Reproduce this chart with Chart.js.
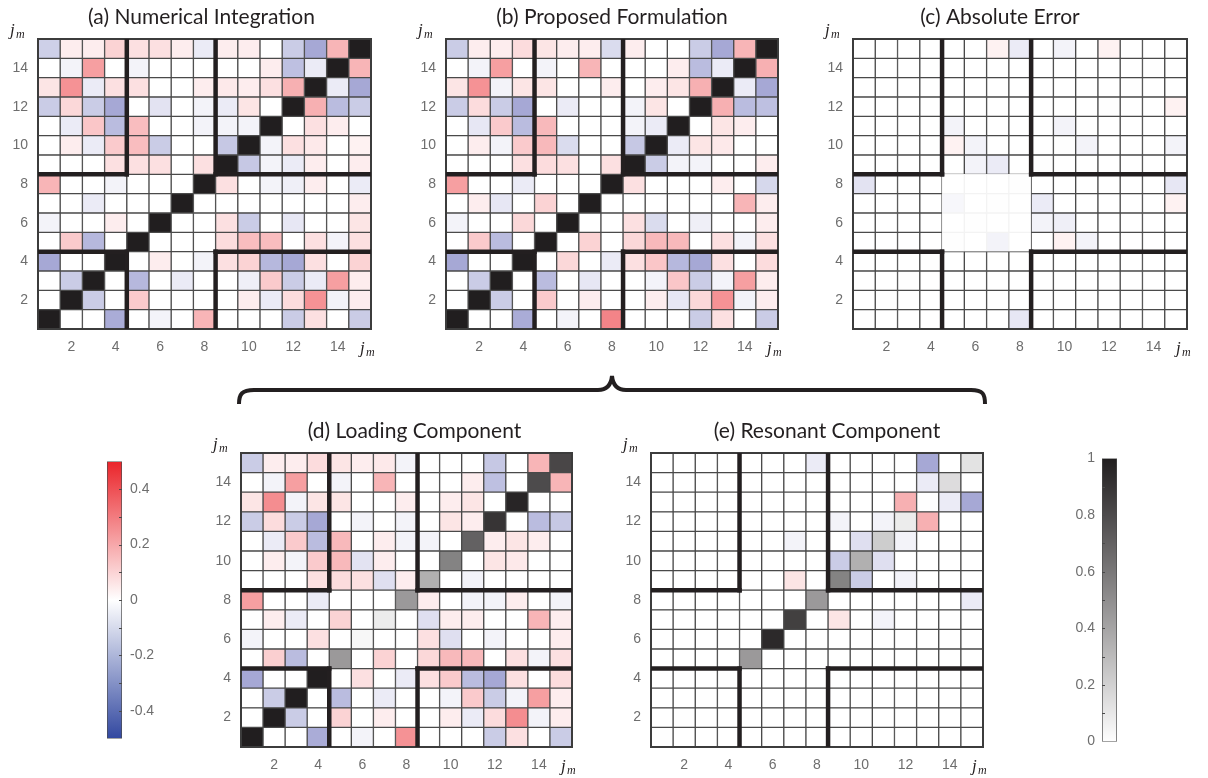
<!DOCTYPE html>
<html><head><meta charset="utf-8">
<script src="https://cdn.jsdelivr.net/npm/chart.js@4.4.1/dist/chart.umd.min.js"></script>
<style>
html,body{margin:0;padding:0;background:#fff;width:1208px;height:778px;overflow:hidden;position:relative}
canvas{position:absolute;display:block}
svg{position:absolute;left:0;top:0}
</style></head><body>
<svg width="1208" height="778"><path d="M239,404 C239,394 242,390 254,390 L598,390 C606,390 611,386 612,376 C613,386 618,390 626,390 L971,390 C983,390 985,394 985,404" fill="none" stroke="#231f20" stroke-width="4"/></svg>
<canvas id="ca"></canvas><canvas id="cb"></canvas><canvas id="cc"></canvas>
<canvas id="cd"></canvas><canvas id="ce"></canvas>
<canvas id="cbarDiv"></canvas><canvas id="cbarGray"></canvas>
<script>
// ---- data (rows listed from j=15 at top down to j=1; columns 1..15) ----
const columnLabels = ['1','2','3','4','5','6','7','8','9','10','11','12','13','14','15'];
const rowTicks = [2,4,6,8,10,12,14];
const divergingTicks = [-0.4,-0.2,0,0.2,0.4];
const grayTicks = [0,0.2,0.4,0.6,0.8,1];

const numericalIntegration = [
 [-0.12,0.04,0.04,0.10,0.07,0.07,0.04,-0.05,0.04,0.04,0,-0.13,-0.22,0.17,1],
 [0,-0.03,0.22,0,-0.03,0,0,0,0,0,0.04,-0.16,-0.05,1,0.17],
 [0.06,0.25,-0.05,0.07,0.07,0,0,0.04,0.05,0.04,0.07,0.18,1,-0.05,-0.22],
 [-0.13,0.09,-0.13,-0.22,0,-0.07,0,-0.03,-0.05,0.06,0,1,0.18,-0.17,-0.13],
 [0,-0.05,0.13,-0.17,0.15,0,0,-0.03,-0.03,-0.03,1,0,0.07,0.04,0],
 [0,0.04,-0.05,0.12,0.15,-0.13,0,0,-0.14,1,-0.03,0.07,0.05,0,0.03],
 [0,0,0,0.07,0.07,0.07,0,0.07,1,-0.14,-0.03,-0.05,0.04,0,0.04],
 [0.17,0,0,-0.03,0,0,0,1,0.07,0,-0.03,-0.04,0.04,0,-0.05],
 [0,0,-0.05,0,0,0,1,0,0,0,0,0,0,0,0.04],
 [-0.03,0,0,0.04,0,1,0,0,0.07,-0.13,0,-0.06,0,0,0.06],
 [0,0.12,-0.18,0,1,0,0,0,0.08,0.15,0.15,0,0.07,-0.03,0.07],
 [-0.22,0,0,1,0,0.04,0,-0.03,0.07,0.10,-0.18,-0.22,0.07,0,0.10],
 [0,-0.13,1,0,-0.18,0,-0.05,0,0,-0.04,0.12,-0.13,-0.05,0.22,0.04],
 [0,1,-0.13,0,0.12,0,0,0,0,0.04,-0.05,0.08,0.25,-0.03,0.04],
 [1,0,0,-0.21,0,-0.03,0,0.17,0,0,0,-0.13,0.07,0,-0.13]
];
const proposedFormulation = [
 [-0.13,0.04,0.04,0.08,0.06,0.04,0.04,-0.09,0.04,0,0,-0.13,-0.22,0.17,1],
 [0,-0.03,0.22,0,-0.03,0,0.17,0,0,0,0.04,-0.17,-0.05,1,0.18],
 [0.06,0.25,-0.03,0.06,0.06,0,0,0.04,0,0.04,0.06,0.18,1,-0.05,-0.22],
 [-0.13,0.08,-0.13,-0.22,0,-0.05,0,0,-0.03,0.06,0,1,0.18,-0.17,-0.16],
 [0,-0.06,0.12,-0.17,0.16,0,0,0,-0.03,-0.05,1,0,0.06,0.04,0],
 [0,0.04,-0.03,0.12,0.16,-0.09,0,0,-0.14,1,-0.05,0.06,0.05,0,0],
 [0,0,0,0.07,0.08,0.07,0,0.07,1,-0.13,-0.03,-0.03,0,0,0.04],
 [0.22,0,0,-0.05,0,0,0,1,0.07,0,0,0,0.04,0,-0.10],
 [0,0.04,-0.06,0,0.10,0,1,0,0,0,0,0,0,0.17,0.04],
 [-0.03,0,0,0.09,0,1,0,0,0.07,-0.09,0,-0.04,0,0,0.04],
 [0,0.12,-0.17,0,1,0,0.10,0,0.09,0.16,0.16,0,0.07,-0.03,0.07],
 [-0.22,0,0,1,0,0.09,0,-0.05,0.07,0.13,-0.18,-0.22,0.07,0,0.08],
 [0,-0.13,1,0,-0.17,0,-0.06,0,0,-0.03,0.13,-0.13,-0.03,0.22,0.04],
 [0,1,-0.13,0,0.12,0,0.04,0,0,0.04,-0.06,0.09,0.25,-0.03,0.04],
 [1,0,0,-0.21,0,-0.03,0,0.28,0,0,0,-0.13,0.07,0,-0.13]
];
const absoluteError = [
 [0,0,0,0,0,0,0.03,-0.05,0,-0.03,0,0.03,0,0,0],
 [0,0,0,0,0,0,0,0,0,0,0,0,0,0,0],
 [0,0,0,0,0,0,0,0,0,0,0,0,0,0,0],
 [0,0,0,0,0,0,0,0,0,0,0,0,0,0,0.03],
 [0,0,0,0,-0.03,0,0,0,0,-0.03,0,0,0,0,0],
 [0,0,0,0,0.03,-0.03,0,0,0,0,-0.03,0,0,0,-0.03],
 [0,0,0,0,0,-0.03,-0.05,0,0,0,0,0,0,0,0],
 [-0.07,0,0,0,0,0,0,0,0,0,0,0,0,0,-0.06],
 [0,0,0,0,-0.02,0,0,0,-0.05,0,0,0,0,0,0.03],
 [0,0,0,0,0,0,0,0,-0.03,-0.04,0,0,0,0,0],
 [0,0,0,0,0,0,-0.03,0,0,0.03,-0.03,0,0,0,0],
 [0,0,0,0,0,0,0,0,0,0,0,0,0,0,0],
 [0,0,0,0,0,0,0,0,0,0,0,0,0,0,0],
 [0,0,0,0,0,0,0,0,0,0,0,0,0,0,0],
 [0,0,0,0,0,0,0,-0.06,0,0,0,0,0,0,0]
];
const loadingComponent = [
 [-0.13,0.04,0.04,0.08,0.06,0.04,0.05,-0.03,0,0,0,-0.14,0,0.17,0.82],
 [0,-0.03,0.22,0,-0.03,0,0.17,0,0,0,0.04,-0.16,0,0.80,0.17],
 [0.06,0.26,-0.03,0.06,0.06,0,0,0.04,0,0.04,0.06,0,0.97,0,0],
 [-0.13,0.08,-0.13,-0.22,0,-0.03,0,-0.03,0,0.06,0.04,0.90,0,-0.17,-0.14],
 [0,-0.05,0.12,-0.17,0.16,0,0.04,-0.03,-0.03,0,0.70,0.04,0.06,0.04,0],
 [0,0.04,-0.03,0.12,0.16,-0.07,0.04,0,0,0.55,0,0.06,0.05,0,0],
 [0,0,0,0.07,0.08,0.07,-0.08,0.04,0.35,0,-0.03,0,0,0,0],
 [0.22,0,0,-0.05,0,0,0,0.45,0.04,0,-0.03,-0.03,0.04,0,-0.03],
 [0,0.04,-0.05,0,0.10,0,0.08,0,-0.08,0.04,0.04,0,0,0.17,0.04],
 [-0.03,0,0,0.07,0,0.03,0,0,0.07,-0.08,0,-0.03,0,0,0.04],
 [0,0.11,-0.17,0,0.45,0,0.10,0,0.09,0.16,0.16,0,0.07,-0.03,0.07],
 [-0.22,0,0,1,0,0.07,0,-0.05,0.07,0.12,-0.17,-0.22,0.07,0,0.08],
 [0,-0.13,1,0,-0.17,0,-0.05,0,0,-0.03,0.12,-0.13,-0.03,0.22,0.04],
 [0,1,-0.13,0,0.10,0,0.04,0,0,0.04,-0.05,0.08,0.26,-0.03,0.04],
 [1,0,0,-0.21,0,-0.03,0,0.25,0,0,0,-0.13,0.07,0,-0.13]
];
const resonantComponent = [
 [0,0,0,0,0,0,0,-0.05,0,0,0,0,-0.22,0,0.12],
 [0,0,0,0,0,0,0,0,0,0,0,0,-0.05,0.15,0],
 [0,0,0,0,0,0,0,0,0,0,0,0.18,0,-0.05,-0.22],
 [0,0,0,0,0,0,0,0,-0.03,0,-0.03,0.08,0.18,0,0],
 [0,0,0,0,0,0,-0.03,0,0,-0.08,0.22,-0.03,0,0,0],
 [0,0,0,0,0,0,0,0,-0.13,0.35,-0.08,0,0,0,0],
 [0,0,0,0,0,0,0.06,0,0.55,-0.13,0,-0.03,0,0,0],
 [0,0,0,0,0,0,0,0.45,0,0,0,0,0,0,-0.05],
 [0,0,0,0,0,0,0.85,0,0.06,0,-0.03,0,0,0,0],
 [0,0,0,0,0,0.95,0,0,0,0,0,0,0,0,0],
 [0,0,0,0,0.45,0,0,0,0,0,0,0,0,0,0],
 [0,0,0,0,0,0,0,0,0,0,0,0,0,0,0],
 [0,0,0,0,0,0,0,0,0,0,0,0,0,0,0],
 [0,0,0,0,0,0,0,0,0,0,0,0,0,0,0],
 [0,0,0,0,0,0,0,0,0,0,0,0,0,0,0]
];

// ---- colour maps ----
const RED = [234,36,42], BLUE = [52,58,160], WHITE = [255,255,255], BLACK = [33,30,31];
function mix(a,b,t){return 'rgb('+a.map((v,i)=>Math.round(v+(b[i]-v)*t)).join(',')+')';}
function divColor(v){const t=Math.max(-1,Math.min(1,v/0.5));return t>=0?mix(WHITE,RED,t):mix(WHITE,BLUE,-t);}
function grayColor(v){return mix([254,254,254],BLACK,Math.max(0,Math.min(1,v)));}

Chart.defaults.font.family = '"Liberation Sans", Arial, sans-serif';
Chart.defaults.font.size = 14;
Chart.defaults.color = '#6e6e6e';

function drawJm(ctx,x,y){
  ctx.save();ctx.fillStyle='#231f20';ctx.textAlign='left';ctx.textBaseline='alphabetic';
  ctx.font='italic 17px "Liberation Serif", "DejaVu Serif", serif';ctx.fillText('j',x,y);
  ctx.font='italic 12px "Liberation Serif", "DejaVu Serif", serif';ctx.fillText('m',x+6,y+3);
  ctx.restore();
}

const overlay = {
  id:'overlay',
  afterDatasetsDraw(chart){
    const {ctx, chartArea:a, scales:{x,y}} = chart;
    const o = chart.options.plugins.overlay;
    const bx = i => (x.getPixelForValue(i-1)+x.getPixelForValue(i))/2; // boundary after column i
    const x4 = bx(4), x8 = bx(8), y4 = y.getPixelForValue(4.5), y8 = y.getPixelForValue(8.5);
    ctx.save();
    ctx.strokeStyle='#3c3c3c';ctx.lineWidth=2;ctx.strokeRect(a.left,a.top,a.right-a.left,a.bottom-a.top);
    ctx.strokeStyle='#231f20';ctx.lineWidth=4.5;ctx.lineCap='butt';
    const seg=(x1,y1,x2,y2)=>{ctx.beginPath();ctx.moveTo(x1,y1);ctx.lineTo(x2,y2);ctx.stroke();};
    [x4,x8].forEach(xx=>{seg(xx,a.top,xx,y8+2.2);seg(xx,y4-2.2,xx,a.bottom);});
    [y8,y4].forEach(yy=>{seg(a.left,yy,x4+2.2,yy);seg(x8-2.2,yy,a.right,yy);});
    // title
    ctx.fillStyle='#231f20';ctx.font='21px Lato, "Open Sans", sans-serif';ctx.textAlign='center';ctx.textBaseline='middle';
    ctx.fillText(o.title,(a.left+a.right)/2+o.dx,a.top-22);
    ctx.restore();
    drawJm(ctx,a.left-28,a.top-4);
    drawJm(ctx,a.right-11,a.bottom+24);
  }
};

function heatmap(id, rect, matrix, title, dx, soft){
  const [L,T,R,B] = rect;
  const cv = document.getElementById(id);
  const padL=34, padT=40, padR=30, padB=30;
  cv.width = R-L+padL+padR; cv.height = B-T+padT+padB;
  cv.style.left=(L-padL)+'px'; cv.style.top=(T-padT)+'px';
  const datasets=[];
  for(let j=1;j<=15;j++){
    const row = matrix[15-j];
    datasets.push({
      data: row.map(()=>[j-0.5,j+0.5]),
      backgroundColor: row.map((v,c)=> (c+1===j)?grayColor(v):divColor(v)),
      borderColor: row.map((v,c)=> (soft && j>=5&&j<=8&&c+1>=5&&c+1<=8)?'#f3f3f3':'#4a4a4a'),
      borderWidth:1, borderSkipped:false, barPercentage:1, categoryPercentage:1, grouped:false
    });
  }
  new Chart(cv,{
    type:'bar',
    data:{labels:columnLabels,datasets},
    plugins:[overlay],
    options:{
      responsive:false, animation:false, events:[],
      layout:{padding:{left:0,top:padT,right:padR,bottom:0}},
      plugins:{legend:{display:false},tooltip:{enabled:false},overlay:{title,dx}},
      scales:{
        x:{type:'category',grid:{display:false,drawTicks:false},border:{display:false},
           ticks:{autoSkip:false,maxRotation:0,padding:10,callback:(v,i)=>(i+1)%2===0?columnLabels[i]:''},
           afterFit:s=>{s.height=padB;}},
        y:{type:'linear',min:0.5,max:15.5,grid:{display:false,drawTicks:false},border:{display:false},
           afterBuildTicks:s=>{s.ticks=rowTicks.map(v=>({value:v}));},
           ticks:{padding:10},
           afterFit:s=>{s.width=padL;}}
      }
    }
  });
}

heatmap('ca',[38,39,371,329],numericalIntegration,'(a) Numerical Integration',-3,false);
heatmap('cb',[446,39,778,329],proposedFormulation,'(b) Proposed Formulation',0,false);
heatmap('cc',[853,39,1187,329],absoluteError,'(c) Absolute Error',-20,true);
heatmap('cd',[241,453,572,747],loadingComponent,'(d) Loading Component',8,false);
heatmap('ce',[651,453,983,747],resonantComponent,'(e) Resonant Component',10,false);

// ---- colour bars ----
const barTicks = {
  id:'barTicks',
  afterDatasetsDraw(chart){
    const {ctx,chartArea:a,scales:{y}} = chart; const o = chart.options.plugins.barTicks;
    ctx.save();ctx.strokeStyle='#4a4a4a';ctx.lineWidth=1;
    for(let k=0;k<o.marks.length;k++){
      const py=Math.round(y.getPixelForValue(o.marks[k]))+0.5;
      ctx.beginPath();
      if(o.side==='right'){ctx.moveTo(a.right,py);ctx.lineTo(a.right-3,py);}
      else{ctx.moveTo(a.left,py);ctx.lineTo(a.left+3,py);}
      ctx.stroke();
    }
    ctx.restore();
  }
};
function colorBar(id, left, top, h, min, max, ticks, marks, side, stops){
  const cv=document.getElementById(id);
  const w=15, axisW=50, pad=10;
  cv.width=w+axisW; cv.height=h+2*pad;
  cv.style.left=(side==='right'?left:left-axisW)+'px'; cv.style.top=(top-pad)+'px';
  new Chart(cv,{
    type:'bar',
    data:{labels:[''],datasets:[{data:[[min,max]],borderColor:'#4a4a4a',borderWidth:1,borderSkipped:false,
      barPercentage:1,categoryPercentage:1,
      backgroundColor:(c)=>{const a=c.chart.chartArea;if(!a)return '#fff';
        const g=c.chart.ctx.createLinearGradient(0,a.bottom,0,a.top);stops.forEach(s=>g.addColorStop(s[0],s[1]));return g;}}]},
    plugins:[barTicks],
    options:{responsive:false,animation:false,events:[],
      layout:{padding:{top:pad,bottom:pad,left:0,right:0}},
      plugins:{legend:{display:false},tooltip:{enabled:false},barTicks:{marks,side}},
      scales:{x:{display:false},
        y:{position:side,min,max,grid:{display:false,drawTicks:false},border:{display:false},
           afterBuildTicks:s=>{s.ticks=ticks.map(v=>({value:v}));},
           ticks:{padding:side==='right'?8:7,callback:v=>String(+v.toFixed(1))},
           afterFit:s=>{s.width=axisW;}}}}
  });
}
colorBar('cbarDiv',107,455,290,-0.5,0.5,divergingTicks,[-0.4,-0.3,-0.2,-0.1,0,0.1,0.2,0.3,0.4],'right',
  [[0,'rgb(50,72,160)'],[0.5,'rgb(255,255,255)'],[1,divColor(0.5)]]);
colorBar('cbarGray',1102,453,294,0,1,grayTicks,[0.1,0.2,0.3,0.4,0.5,0.6,0.7,0.8,0.9],'left',
  [[0,grayColor(0)],[1,grayColor(1)]]);
</script>
</body></html>
